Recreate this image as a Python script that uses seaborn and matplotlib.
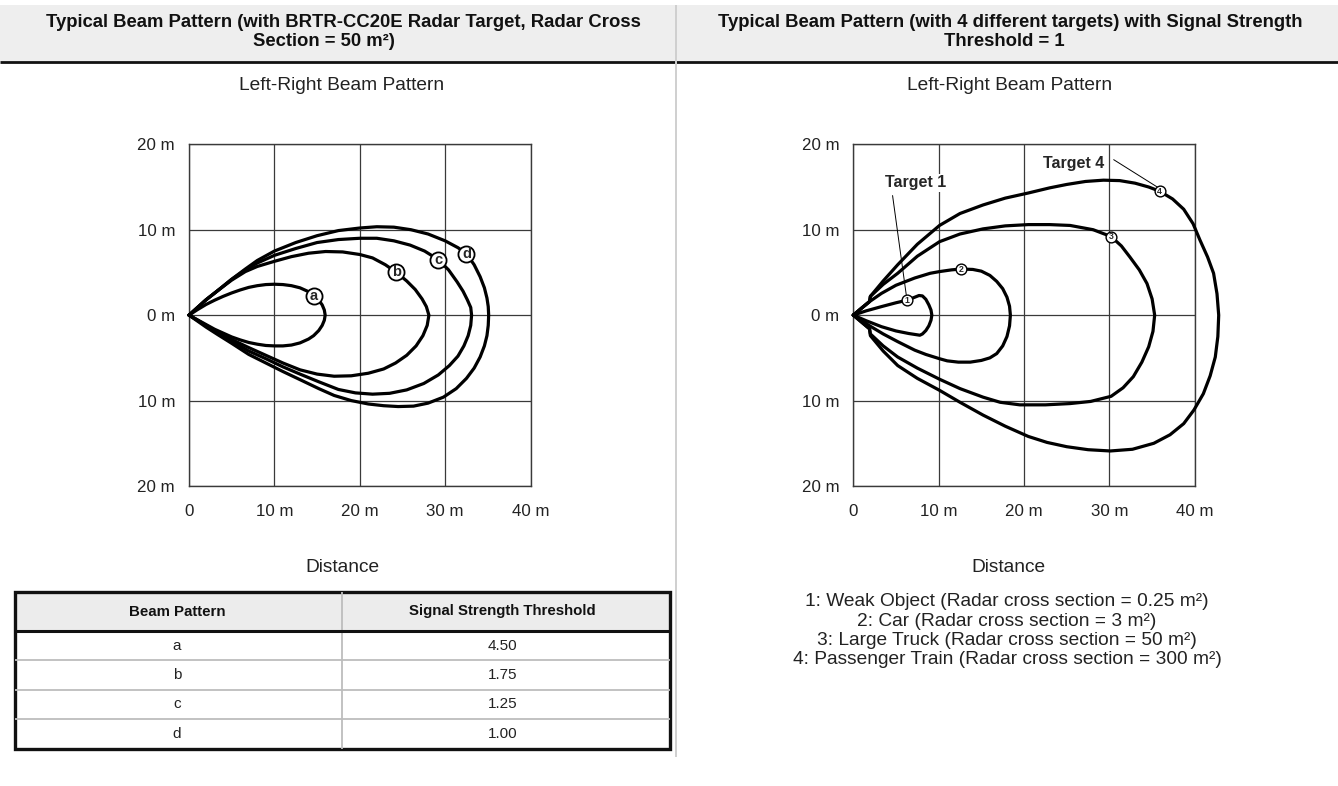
import matplotlib
matplotlib.use("Agg")
import matplotlib.pyplot as plt
from matplotlib.patches import Rectangle
import pandas as pd
import seaborn as sns

# ---------------- data ----------------
# Left chart: beam patterns a-d (distance m, lateral m)
a_x = [0, 1, 2, 3, 4, 5, 6, 7, 8, 9, 10, 11, 12, 13, 14, 14.6, 15.2, 15.6, 15.85, 15.95,
       15.85, 15.6, 15.2, 14.6, 14, 13, 12, 11, 10, 9, 8, 7, 6, 5, 4, 3, 2, 1, 0]
a_y = [0, 0.65, 1.25, 1.75, 2.2, 2.6, 2.95, 3.25, 3.45, 3.58, 3.62, 3.58, 3.45, 3.2, 2.75, 2.3, 1.75, 1.2, 0.6, 0,
       -0.6, -1.2, -1.8, -2.4, -2.8, -3.25, -3.5, -3.6, -3.6, -3.55, -3.4, -3.2, -2.9, -2.55, -2.1, -1.65, -1.1, -0.55, 0]
b_x = [0, 1, 2, 3.4, 5, 6.6, 8, 10, 12, 14, 16, 18, 20, 21.5, 23, 24.3, 25.5, 26.5, 27.3, 27.8, 28.1,
       27.9, 27.4, 26.6, 25.5, 24.2, 22.8, 21, 19, 17, 15, 13, 11, 9, 7, 5, 3.4, 2, 1, 0]
b_y = [0, 0.9, 1.8, 2.9, 4.1, 5.1, 5.7, 6.3, 6.85, 7.25, 7.45, 7.4, 7.1, 6.7, 5.9, 5.0, 4.0, 3.0, 1.9, 1.0, 0,
       -1.2, -2.4, -3.6, -4.7, -5.6, -6.3, -6.8, -7.1, -7.15, -6.9, -6.4, -5.6, -4.7, -3.8, -2.85, -2.0, -1.2, -0.6, 0]
c_x = [0, 1, 2, 3.4, 5, 6.6, 8, 10, 12.5, 15, 17.5, 20, 22, 24, 25.9, 27.6, 29.2, 30.4, 31.4, 32.1, 32.6, 33.0, 33.1,
       33.0, 32.7, 32.2, 31.5, 30.5, 29.2, 27.5, 25.5, 23.5, 21.5, 19.5, 17.5, 15.2, 13, 11, 9, 7, 5, 3.4, 2, 1, 0]
c_y = [0, 0.9, 1.8, 2.9, 4.2, 5.3, 6.1, 7.0, 7.8, 8.5, 8.85, 9.0, 9.0, 8.7, 8.2, 7.5, 6.5, 5.3, 3.9, 2.8, 1.8, 0.9, 0,
       -1.2, -2.4, -3.6, -4.8, -5.9, -7.0, -8.0, -8.75, -9.15, -9.25, -9.1, -8.7, -7.8, -6.9, -6.05, -5.1, -4.2, -3.05, -2.1, -1.25, -0.6, 0]
d_x = [0, 1, 2, 3.4, 5, 6.6, 8, 10, 12.5, 15, 17.5, 20, 22, 24, 26, 28, 30, 31.5, 32.5, 33.4, 34.1, 34.6, 34.9, 35.05, 35.1,
       35.05, 34.9, 34.6, 34.1, 33.4, 32.5, 31.3, 29.8, 28, 26.3, 24.5, 22.8, 21, 19, 17, 15.2, 13, 11, 9, 7, 5, 3.4, 2, 1, 0]
d_y = [0, 0.9, 1.8, 2.9, 4.2, 5.4, 6.4, 7.5, 8.5, 9.3, 9.9, 10.2, 10.35, 10.3, 10.0, 9.5, 8.7, 7.9, 7.2, 5.9, 4.5, 3.2, 2.0, 1.0, 0,
       -1.2, -2.4, -3.6, -4.9, -6.2, -7.4, -8.6, -9.6, -10.3, -10.65, -10.7, -10.6, -10.4, -10.0, -9.4, -8.6, -7.55, -6.6, -5.6, -4.6, -3.3, -2.3, -1.4, -0.7, 0]

left_label_names = ["a", "b", "c", "d"]
left_label_x = [14.6, 24.3, 29.2, 32.5]
left_label_y = [2.3, 5.0, 6.5, 7.2]

# Right chart: targets 1-4
t1_x = [0, 1.5, 3.3, 5, 6.3, 7.2, 7.7, 8.1, 8.5, 8.85, 9.1, 9.2, 9.1, 8.85, 8.5, 8.1, 7.8, 6.5, 5, 3.3, 1.5, 0]
t1_y = [0, 0.5, 1.0, 1.45, 1.75, 2.1, 2.3, 2.25, 1.85, 1.2, 0.6, 0, -0.6, -1.25, -1.8, -2.2, -2.35, -2.15, -1.85, -1.35, -0.65, 0]
t2_x = [0, 1, 2, 3.3, 5, 7.2, 9, 10.1, 11.5, 12.6, 14, 15, 16, 16.8, 17.5, 18, 18.3, 18.4,
        18.3, 18, 17.5, 16.8, 16, 15, 13.7, 12.3, 11, 10.1, 8.5, 7.2, 5.2, 3.5, 2, 1, 0]
t2_y = [0, 0.85, 1.65, 2.55, 3.5, 4.35, 4.9, 5.1, 5.3, 5.4, 5.35, 5.15, 4.65, 3.95, 3.1, 2.1, 1.05, 0,
        -1.25, -2.5, -3.6, -4.5, -5.0, -5.3, -5.5, -5.5, -5.35, -5.1, -4.6, -4.1, -3.1, -2.2, -1.3, -0.65, 0]
t3_x = [0, 1.9, 2.0, 3.5, 5.2, 7.5, 10.1, 12.5, 15.2, 17.8, 20.5, 23, 25.4, 28.1, 30.2, 31.4, 32.4, 33.5, 34.4, 35, 35.3,
        35.1, 34.6, 33.8, 32.8, 31.6, 30.2, 27.8, 25.4, 22.5, 19.5, 17.2, 15.2, 12.5, 10.1, 7.5, 5.2, 3.5, 2.0, 1.9, 0]
t3_y = [0, 1.6, 2.2, 3.6, 4.9, 6.9, 8.6, 9.5, 10.1, 10.45, 10.6, 10.6, 10.5, 10.0, 9.2, 8.1, 6.8, 5.3, 3.7, 1.9, 0,
        -1.9, -3.7, -5.5, -7.2, -8.5, -9.5, -10.1, -10.35, -10.5, -10.5, -10.2, -9.6, -8.6, -7.5, -6.2, -4.9, -3.6, -2.2, -1.6, 0]
t4_x = [0, 1.9, 2.0, 3.5, 5.2, 7.5, 10.1, 12.5, 15.2, 17.8, 20.5, 23, 25, 27.2, 29.3, 31.2, 33, 34.6, 35.9, 37.4, 38.7, 39.8, 40.6, 41.5, 42.2, 42.6, 42.8,
        42.7, 42.4, 41.8, 41, 39.9, 38.7, 37.1, 35.2, 32.7, 30.1, 27.5, 25, 22.7, 20.5, 17.8, 15.2, 12.5, 10.1, 7.5, 5.2, 3.5, 2.0, 1.9, 0]
t4_y = [0, 1.6, 2.2, 4.0, 5.9, 8.3, 10.5, 11.9, 12.9, 13.7, 14.3, 14.9, 15.3, 15.65, 15.8, 15.75, 15.45, 15.0, 14.5, 13.6, 12.4, 10.7, 8.8, 6.8, 4.9, 2.5, 0,
        -2.5, -4.9, -7.1, -9.2, -11.1, -12.7, -14.0, -15.0, -15.7, -15.9, -15.75, -15.4, -14.9, -14.2, -13.0, -11.7, -10.2, -8.8, -7.4, -5.9, -4.2, -2.4, -1.6, 0]

right_label_names = ["1", "2", "3", "4"]
right_label_x = [6.3, 12.6, 30.2, 35.9]
right_label_y = [1.75, 5.4, 9.2, 14.5]

x_ticks = [0, 10, 20, 30, 40]
x_tick_labels = ["0", "10 m", "20 m", "30 m", "40 m"]
y_ticks = [-20, -10, 0, 10, 20]
y_tick_labels = ["20 m", "10 m", "0 m", "10 m", "20 m"]

table_patterns = ["a", "b", "c", "d"]
table_thresholds = [4.50, 1.75, 1.25, 1.00]

target_notes = [
    "1: Weak Object (Radar cross section = 0.25 m²)",
    "2: Car (Radar cross section = 3 m²)",
    "3: Large Truck (Radar cross section = 50 m²)",
    "4: Passenger Train (Radar cross section = 300 m²)",
]

# ---------------- style ----------------
sns.set_style("white")
plt.rcParams["font.family"] = ["Liberation Sans", "DejaVu Sans"]


def curves_frame(curves):
    frames = []
    for name, (xs, ys) in curves.items():
        frames.append(pd.DataFrame({"x": xs, "y": ys, "curve": name,
                                    "order": range(len(xs))}))
    return pd.concat(frames, ignore_index=True)


df_left = curves_frame({"a": (a_x, a_y), "b": (b_x, b_y), "c": (c_x, c_y), "d": (d_x, d_y)})
df_right = curves_frame({"1": (t1_x, t1_y), "2": (t2_x, t2_y), "3": (t3_x, t3_y), "4": (t4_x, t4_y)})

W, H = 1338, 786
fig = plt.figure(figsize=(W / 100, H / 100), dpi=100)

# background overlay in pixel coordinates
bg = fig.add_axes([0, 0, 1, 1], zorder=0)
bg.set_xlim(0, W)
bg.set_ylim(H, 0)
bg.axis("off")

bg.add_patch(Rectangle((0, 5), W, 56, color="#eeeeee", lw=0))
bg.plot([0, W], [62, 62], color="#111111", lw=2.0, solid_capstyle="butt")
bg.plot([676, 676], [5, 757], color="#cfcfcf", lw=1.4, solid_capstyle="butt")

title_kw = dict(fontsize=13.3, fontweight="bold", ha="center", va="center", color="#111111")
bg.text(343, 22.5, "Typical Beam Pattern (with BRTR-CC20E Radar Target, Radar Cross", **title_kw)
bg.text(324, 41.5, "Section = 50 m²)", **title_kw)
bg.text(1010, 22.5, "Typical Beam Pattern (with 4 different targets) with Signal Strength", **title_kw)
bg.text(1004, 41.5, "Threshold = 1", **title_kw)

sub_kw = dict(fontsize=13.8, ha="center", va="center", color="#222222")
bg.text(342, 86, "Left-Right Beam Pattern", **sub_kw)
bg.text(1010, 86, "Left-Right Beam Pattern", **sub_kw)
bg.text(342, 568, "Distance", **sub_kw)
bg.text(1008, 568, "Distance", **sub_kw)
for i, note in enumerate(target_notes):
    bg.text(1007, 601.5 + i * 19.5, note, **sub_kw)

# table
tl, tr, tt, tb = 15, 669.5, 592, 749
col_div = 342
row_edges = [631, 660.3, 689.7, 719.3, 749]
bg.add_patch(Rectangle((tl, tt), tr - tl, row_edges[0] - tt, color="#ececec", lw=0))
for yy in row_edges[1:-1]:
    bg.plot([tl, tr], [yy, yy], color="#bdbdbd", lw=1.3, solid_capstyle="butt")
bg.plot([col_div, col_div], [tt, tb], color="#bdbdbd", lw=1.3, solid_capstyle="butt")
bg.plot([tl, tr], [row_edges[0], row_edges[0]], color="#111111", lw=2.2, solid_capstyle="butt")
bg.add_patch(Rectangle((tl, tt), tr - tl, tb - tt, fill=False, ec="#111111", lw=2.4))
bg.text(177, 611.5, "Beam Pattern", fontsize=10.8, fontweight="bold", ha="center", va="center", color="#111111")
bg.text(502.5, 611.5, "Signal Strength Threshold", fontsize=10.8, fontweight="bold", ha="center", va="center", color="#111111")
for i, (p, t) in enumerate(zip(table_patterns, table_thresholds)):
    yc = (row_edges[i] + row_edges[i + 1]) / 2
    bg.text(177, yc, p, fontsize=11, ha="center", va="center", color="#222222")
    bg.text(502.5, yc, f"{t:.2f}", fontsize=11, ha="center", va="center", color="#222222")


def make_axes(left_px):
    ax = fig.add_axes([left_px / W, 1 - 486 / H, 341.5 / W, 341.7 / H], zorder=2)
    ax.set_facecolor("white")
    return ax


def style_axes(ax):
    ax.set_xlim(0, 40)
    ax.set_ylim(-20, 20)
    ax.set_xticks(x_ticks)
    ax.set_xticklabels(x_tick_labels)
    ax.set_yticks(y_ticks)
    ax.set_yticklabels(y_tick_labels)
    ax.tick_params(axis="x", length=0, pad=13, labelsize=12.2, labelcolor="#222222")
    ax.tick_params(axis="y", length=0, pad=10, labelsize=12.2, labelcolor="#222222")
    ax.grid(True, color="#3a3a3a", lw=0.9)
    for s in ax.spines.values():
        s.set_color("#3a3a3a")
        s.set_linewidth(1.0)
    ax.set_xlabel("")
    ax.set_ylabel("")


line_kw = dict(x="x", y="y", units="curve", estimator=None, sort=False, color="black",
               lw=2.3, legend=False, zorder=3, clip_on=False,
               solid_joinstyle="round", solid_capstyle="round")

# ---------------- left chart ----------------
axL = make_axes(189)
sns.lineplot(data=df_left, ax=axL, **line_kw)
style_axes(axL)
sns.scatterplot(x=left_label_x, y=left_label_y, s=135, color="white", edgecolor="black",
                linewidth=1.3, ax=axL, zorder=5, legend=False)
for nm, lx, ly in zip(left_label_names, left_label_x, left_label_y):
    axL.text(lx, ly, nm, fontsize=10.5, fontweight="bold", ha="center", va="center", zorder=6)

# ---------------- right chart ----------------
axR = make_axes(853.3)
sns.lineplot(data=df_right, ax=axR, **line_kw)
style_axes(axR)
sns.scatterplot(x=right_label_x, y=right_label_y, s=60, color="white", edgecolor="black",
                linewidth=1.0, ax=axR, zorder=5, legend=False)
for nm, lx, ly in zip(right_label_names, right_label_x, right_label_y):
    axR.text(lx, ly, nm, fontsize=6.3, fontweight="bold", ha="center", va="center", zorder=6)

# target call-outs
axR.text(7.35, 15.5, "Target 1", fontsize=11.5, fontweight="bold", ha="center", va="center",
         zorder=6, bbox=dict(fc="white", ec="none", pad=1))
axR.plot([4.6, 6.2], [14.0, 2.4], color="black", lw=0.7, zorder=4)
axR.text(25.8, 17.8, "Target 4", fontsize=11.5, fontweight="bold", ha="center", va="center",
         zorder=6, bbox=dict(fc="white", ec="none", pad=1))
axR.plot([30.5, 35.6], [18.2, 15.0], color="black", lw=0.7, zorder=4)

fig.savefig("out.png", dpi=100)
